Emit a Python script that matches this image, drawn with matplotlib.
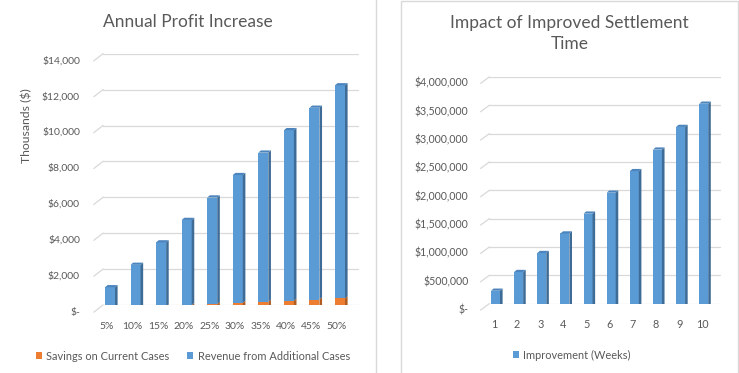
"""Two Excel-style 3D column charts: annual profit increase and settlement time impact."""

import matplotlib

matplotlib.use("Agg")
import matplotlib.pyplot as plt
from matplotlib.lines import Line2D
from matplotlib.patches import Polygon, Rectangle
from matplotlib.transforms import ScaledTranslation

W, H = 739, 373

# Left chart: thousands of dollars, stacked
profit_labels = ["5%", "10%", "15%", "20%", "25%", "30%", "35%", "40%", "45%", "50%"]
savings = [62, 125, 188, 250, 312, 375, 438, 500, 562, 625]
revenue = [1188, 2375, 3562, 4750, 5938, 7125, 8312, 9500, 10688, 11875]
profit_ticks = [0, 2000, 4000, 6000, 8000, 10000, 12000, 14000]
profit_tick_labels = ["$-", "$2,000", "$4,000", "$6,000", "$8,000", "$10,000", "$12,000", "$14,000"]

# Right chart: dollars per weeks of improvement
week_labels = ["1", "2", "3", "4", "5", "6", "7", "8", "9", "10"]
impact = [310000, 640000, 975000, 1320000, 1670000, 2040000, 2420000, 2800000, 3200000, 3610000]
impact_ticks = [0, 500000, 1000000, 1500000, 2000000, 2500000, 3000000, 3500000, 4000000]
impact_tick_labels = ["$-", "$500,000", "$1,000,000", "$1,500,000", "$2,000,000",
                      "$2,500,000", "$3,000,000", "$3,500,000", "$4,000,000"]

GRID = "#D9D9D9"
TEXT = "#595959"
BLUE, BLUE_SIDE, BLUE_TOP = "#5B9BD5", "#3E6C96", "#4C85BD"
ORANGE, ORANGE_SIDE = "#ED7D31", "#B05B1F"

plt.rcParams["font.family"] = ["Lato", "DejaVu Sans"]

fig = plt.figure(figsize=(W / 100, H / 100), dpi=100)


def px_shift(dx, dy):
    # dy in pixels, positive = downwards
    return ScaledTranslation(dx / 100, -dy / 100, fig.dpi_scale_trans)


def axes_px(left, top, right, bottom, xlim, ylim):
    ax = fig.add_axes([left / W, 1 - bottom / H, (right - left) / W, (bottom - top) / H])
    ax.set_xlim(*xlim)
    ax.set_ylim(*ylim)
    ax.set_axis_off()
    ux = (xlim[1] - xlim[0]) / (right - left)
    uy = (ylim[1] - ylim[0]) / (bottom - top)
    return ax, ux, uy


def back_wall(ax, ux, uy, ticks, labels, stub=(9, 7), gap=13, size=7.5):
    x0, x1 = ax.get_xlim()
    for v, lab in zip(ticks, labels):
        ax.plot([x0, x1], [v, v], color=GRID, lw=0.9, zorder=1)
        ax.plot([x0 - stub[0] * ux, x0], [v - stub[1] * uy, v], color=GRID, lw=0.9,
                zorder=1, clip_on=False)
        ax.text(x0 - (stub[0] + gap) * ux, v - stub[1] * uy, lab, ha="right", va="center",
                color=TEXT, fontsize=size)


def columns(ax, ux, uy, xs, bottoms, heights, width, front, side, top=None, drop=4.6,
            depth=(2.6, 2.2)):
    trans = ax.transData + px_shift(0, drop)
    bars = ax.bar(xs, heights, width, bottoms, color=front, transform=trans, zorder=3,
                  linewidth=0)
    sx, sy = depth[0] * ux, depth[1] * uy
    for x, b, h in zip(xs, bottoms, heights):
        xl, xr, t = x - width / 2, x + width / 2, b + h
        ax.add_patch(Polygon([(xr, b), (xr + sx, b + sy), (xr + sx, t + sy), (xr, t)],
                             closed=True, facecolor=side, edgecolor="none",
                             transform=trans, zorder=3))
        if top is not None:
            ax.add_patch(Polygon([(xl, t), (xl + sx, t + sy), (xr + sx, t + sy), (xr, t)],
                                 closed=True, facecolor=top, edgecolor="none",
                                 transform=trans, zorder=3))
    return bars


def category_labels(ax, xs, labels, dx=-3, dy=21.5, size=7.6):
    for x, lab in zip(xs, labels):
        ax.text(x, 0, lab, transform=ax.transData + px_shift(dx, dy), ha="center",
                va="center", color=TEXT, fontsize=size)


# ---- left chart ----
xs1 = list(range(len(profit_labels)))
step1 = (340 - 110) / 9
ax1, ux1, uy1 = axes_px(103, 53.7, 359, 305,
                        (-(110 - 103) / step1, 9 + (359 - 340) / step1), (0, 14000))
back_wall(ax1, ux1, uy1, profit_ticks, profit_tick_labels, gap=14)
w1 = 10 / step1
sav_bars = columns(ax1, ux1, uy1, xs1, [0] * len(savings), savings, w1, ORANGE, ORANGE_SIDE,
                   drop=4.7)
rev_bars = columns(ax1, ux1, uy1, xs1, savings, revenue, w1, BLUE, BLUE_SIDE, BLUE_TOP,
                   drop=4.7)
category_labels(ax1, xs1, profit_labels, dy=21.7, size=7.5)
fig.text(187.5 / W, 1 - 22 / H, "Annual Profit Increase", ha="center", va="center",
         color=TEXT, fontsize=12.5)
fig.text(27 / W, 1 - 126 / H, "Thousands ($)", ha="center", va="center", rotation=90,
         color=TEXT, fontsize=8.8)
ax1.legend([sav_bars, rev_bars], ["Savings on Current Cases", "Revenue from Additional Cases"],
           loc="center left", bbox_to_anchor=(36 / W, 1 - 356 / H),
           bbox_transform=fig.transFigure, ncol=2, frameon=False, fontsize=7.9,
           handlelength=0.55, handleheight=0.55, handletextpad=0.4, columnspacing=1.6,
           borderpad=0, borderaxespad=0, labelcolor=TEXT)

# ---- right chart ----
xs2 = list(range(len(week_labels)))
step2 = (703.7 - 495.5) / 9
ax2, ux2, uy2 = axes_px(489.3, 77, 720.7, 303.7,
                        (-(495.5 - 489.3) / step2, 9 + (720.7 - 703.7) / step2),
                        (0, 4000000))
back_wall(ax2, ux2, uy2, impact_ticks, impact_tick_labels, stub=(8.6, 6.3), gap=12.4,
          size=7.6)
imp_bars = columns(ax2, ux2, uy2, xs2, [0] * len(impact), impact, 9 / step2, BLUE, BLUE_SIDE,
                   BLUE_TOP, drop=4.6)
category_labels(ax2, xs2, week_labels, dx=-1.5, dy=21.3, size=7.8)
fig.text(569.5 / W, 1 - 33.5 / H, "Impact of Improved Settlement\nTime", ha="center",
         va="center", color=TEXT, fontsize=12.5, linespacing=1.32)
ax2.legend([imp_bars], ["Improvement (Weeks)"], loc="center",
           bbox_to_anchor=(572 / W, 1 - 355 / H), bbox_transform=fig.transFigure,
           frameon=False, fontsize=7.9, handlelength=0.55, handleheight=0.55,
           handletextpad=0.4, borderpad=0, borderaxespad=0, labelcolor=TEXT)

# chart borders
fig.add_artist(Line2D([376 / W, 376 / W], [0, 1], color=GRID, lw=1.0,
                      transform=fig.transFigure))
fig.add_artist(Rectangle((400.5 / W, -0.02), (738.3 - 400.5) / W, 1.02 - 1 / H, fill=False,
                         edgecolor=GRID, lw=1.0, transform=fig.transFigure))

fig.savefig("out.png", dpi=100)
